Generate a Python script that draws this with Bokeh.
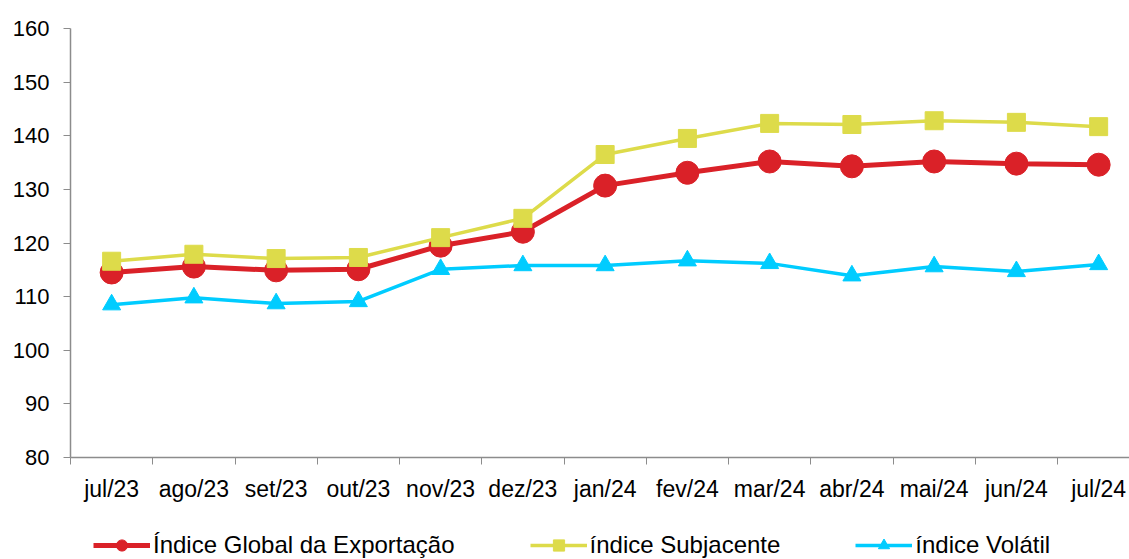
from bokeh.plotting import figure
from bokeh.models import FixedTicker, Range1d, Legend, LegendItem, ColumnDataSource
from bokeh.layouts import column
from bokeh.embed import file_html
from bokeh.resources import INLINE
import numpy as np

months = ["jul/23", "ago/23", "set/23", "out/23", "nov/23", "dez/23", "jan/24",
          "fev/24", "mar/24", "abr/24", "mai/24", "jun/24", "jul/24"]
global_idx = [114.5, 115.6, 114.9, 115.1, 119.5, 122.1, 130.7, 133.1, 135.2, 134.3, 135.2, 134.8, 134.6]
subjacente = [116.6, 117.9, 117.1, 117.3, 121.0, 124.6, 136.5, 139.5, 142.3, 142.1, 142.8, 142.5, 141.7]
volatil = [108.5, 109.8, 108.7, 109.1, 115.1, 115.8, 115.8, 116.7, 116.2, 113.9, 115.6, 114.7, 116.0]
y_ticks = [80, 90, 100, 110, 120, 130, 140, 150, 160]
labels = ["Índice Global da Exportação", "índice Subjacente", "índice Volátil"]

n = len(months)
xs = list(np.arange(n) + 0.5)

FONT = "Liberation Sans"
RED = "#DA2128"
YEL = "#DDDB4A"
CYA = "#00CCFF"
AX = "#8C8C8C"

W = 1129
p = figure(width=W, height=509, output_backend="svg", toolbar_location=None,
           x_range=Range1d(0, 12.875), y_range=Range1d(80, 160),
           min_border_left=70, min_border_right=0, min_border_top=28, min_border_bottom=52)
p.outline_line_color = None
p.xgrid.visible = False
p.ygrid.visible = False

src = ColumnDataSource(dict(x=xs, g=global_idx, s=subjacente, v=volatil))

p.line("x", "g", source=src, line_color=RED, line_width=5)
p.scatter("x", "g", source=src, marker="circle", size=23, fill_color=RED, line_color=RED)
p.line("x", "s", source=src, line_color=YEL, line_width=3.5)
p.scatter("x", "s", source=src, marker="square", size=18, fill_color=YEL, line_color=YEL)
p.line("x", "v", source=src, line_color=CYA, line_width=3.5)
p.scatter("x", "v", source=src, marker="triangle", size=18, fill_color=CYA, line_color=CYA)

xa = p.xaxis[0]
xa.ticker = FixedTicker(ticks=xs, minor_ticks=list(range(n + 1)))
xa.major_label_overrides = {float(x): m for x, m in zip(xs, months)}
xa.major_tick_out = 0
xa.major_tick_in = 0
xa.minor_tick_out = 7
xa.minor_tick_in = 0
xa.minor_tick_line_color = AX
xa.axis_line_color = AX
xa.axis_line_width = 1.5
xa.major_label_text_font = FONT
xa.major_label_text_font_size = "23px"
xa.major_label_text_color = "#000000"
xa.major_label_standoff = 11

ya = p.yaxis[0]
ya.ticker = FixedTicker(ticks=y_ticks)
ya.major_tick_out = 7
ya.major_tick_in = 0
ya.minor_tick_out = 0
ya.minor_tick_in = 0
ya.major_tick_line_color = AX
ya.axis_line_color = AX
ya.axis_line_width = 1.5
ya.major_label_text_font = FONT
ya.major_label_text_font_size = "22px"
ya.major_label_text_color = "#000000"
ya.major_label_standoff = 14

# legend in a strip below the chart
lf = figure(width=W, height=50, output_backend="svg", toolbar_location=None,
            x_range=Range1d(0, 1), y_range=Range1d(0, 1),
            min_border=0, x_axis_type=None, y_axis_type=None)
lf.outline_line_color = None
lf.xgrid.visible = False
lf.ygrid.visible = False
nan = [float("nan")]
items = []
for lab, col, mk, lw in zip(labels, [RED, YEL, CYA], ["circle", "square", "triangle"], [5, 3.5, 3.5]):
    lr = lf.line(nan, nan, line_color=col, line_width=lw)
    sr = lf.scatter(nan, nan, marker=mk, size=12, fill_color=col, line_color=col)
    items.append(LegendItem(label=lab, renderers=[lr, sr]))

legend = Legend(items=items, location=(23, 0), orientation="horizontal")
legend.label_text_font = FONT
legend.label_text_font_size = "24px"
legend.label_text_color = "#000000"
legend.label_height = 28
legend.glyph_width = 57
legend.glyph_height = 28
legend.label_standoff = 3
legend.spacing = 75
legend.padding = 0
legend.margin = 0
legend.border_line_color = None
legend.background_fill_alpha = 0
lf.add_layout(legend, "center")

layout = column(p, lf, spacing=0)
open("out.html", "w").write(file_html(layout, INLINE))
